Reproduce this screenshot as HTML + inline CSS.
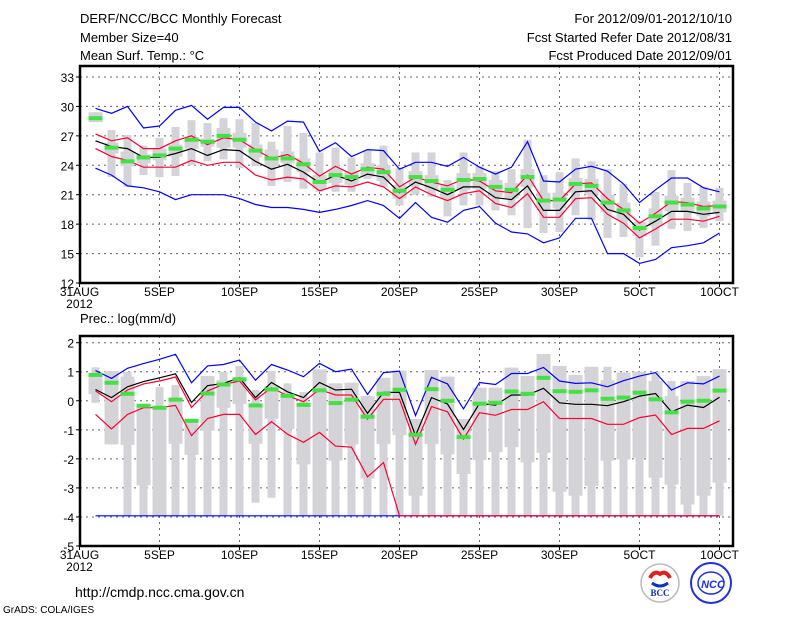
<!DOCTYPE html>
<html><head><meta charset="utf-8"><style>
body{margin:0;background:#fff;}
svg{display:block;font-family:"Liberation Sans",sans-serif;}
</style></head><body>
<svg id="chart" width="800" height="618" viewBox="0 0 800 618">
<text x="80" y="23" font-size="13">DERF/NCC/BCC Monthly Forecast</text>
<text x="80" y="42" font-size="13">Member Size=40</text>
<text x="80" y="60" font-size="13">Mean Surf. Temp.: °C</text>
<text x="732" y="23" font-size="13" text-anchor="end">For 2012/09/01-2012/10/10</text>
<text x="732" y="42" font-size="13" text-anchor="end">Fcst Started Refer Date 2012/08/31</text>
<text x="732" y="60" font-size="13" text-anchor="end">Fcst Produced Date 2012/09/01</text>
<text x="80" y="323" font-size="13">Prec.: log(mm/d)</text>
<text x="75" y="597" font-size="14">http://cmdp.ncc.cma.gov.cn</text>
<text x="3" y="613" font-size="10">GrADS: COLA/IGES</text>
<g>
<circle cx="660" cy="583" r="19" fill="#fff" stroke="#bbb" stroke-width="1.5"/>
<path d="M650 578 q4 -8 10 -4 q6 -4 10 4" stroke="#e02020" stroke-width="4" fill="none"/>
<path d="M652 583 q8 6 16 0" stroke="#1030c0" stroke-width="3" fill="none"/>
<text x="660" y="596" font-size="9" font-weight="bold" text-anchor="middle" fill="#1030a0" font-family="Liberation Serif,serif">BCC</text>
</g>
<g>
<circle cx="711" cy="583" r="20" fill="#fff" stroke="#2030e0" stroke-width="2"/>
<ellipse cx="711" cy="583" rx="13" ry="11" fill="none" stroke="#2030e0" stroke-width="1.5"/>
<text x="713" y="588" font-size="11" font-weight="bold" font-style="italic" text-anchor="middle" fill="#2030e0">NCC</text>
</g>
</svg>
<script>
const tBlueHi=[29.8,29.3,30.0,27.8,28.0,29.6,30.1,28.7,29.9,29.9,28.4,27.5,28.5,28.4,25.4,26.3,24.9,25.6,25.5,23.6,24.3,24.3,23.9,24.8,23.8,23.1,23.8,26.4,22.4,22.3,23.6,23.9,23.4,22.1,20.2,21.5,22.7,22.7,21.7,21.3];
const tRedHi=[27.2,26.5,26.8,25.7,25.7,26.5,27.0,26.1,26.8,26.6,25.6,24.7,25.1,24.2,22.9,23.9,23.1,23.8,23.6,21.8,22.8,22.3,21.9,22.6,22.4,21.4,21.2,23.0,20.4,20.4,22.1,22.2,20.6,19.5,18.1,19.1,20.3,20.2,19.8,19.9];
const tMean=[26.5,25.9,25.7,24.8,24.8,25.2,25.7,25.0,25.6,25.5,24.4,23.6,24.1,23.3,22.2,23.0,22.4,23.1,22.8,21.2,22.3,21.7,21.0,21.8,21.8,20.7,20.5,21.9,19.4,19.4,21.3,21.4,19.5,19.0,17.4,18.3,19.3,19.3,19.0,19.2];
const tRedLo=[25.7,24.9,24.5,23.8,23.8,23.8,24.5,24.0,24.3,24.3,23.0,22.5,22.8,22.6,21.4,21.9,21.8,22.3,21.8,20.6,21.8,21.0,20.4,21.1,21.4,20.1,19.7,21.1,18.7,18.7,20.6,20.7,19.0,18.1,16.6,17.5,18.5,18.5,18.3,18.8];
const tBlueLo=[23.7,23.0,21.9,21.7,21.3,20.5,21.0,21.0,21.0,20.6,20.0,19.7,19.7,19.5,19.2,19.5,19.9,20.4,19.9,18.6,20.2,18.7,18.2,19.4,19.8,18.1,17.2,17.0,16.1,16.6,18.6,18.6,15.0,15.0,14.0,14.4,15.6,15.8,16.1,17.1];
const tObs=[28.8,25.8,24.4,24.8,25.0,25.7,26.6,26.4,27.0,26.6,25.5,24.7,24.7,24.1,22.3,23.0,22.8,23.6,23.3,21.4,22.8,22.4,21.5,22.5,22.6,21.8,21.5,22.8,20.4,20.5,22.1,21.9,20.2,19.4,17.6,18.8,20.2,20.0,19.6,19.8];
const tMax=[29.4,27.6,27.1,26.0,26.8,27.9,28.6,28.3,28.8,28.7,28.3,26.4,28.0,27.3,25.3,25.8,24.8,25.6,26.0,23.7,25.3,25.3,22.5,25.3,23.9,23.4,23.6,26.6,23.0,23.3,24.7,24.4,23.6,22.1,18.3,21.3,23.5,22.2,21.8,21.7];
const tMin=[28.4,22.8,21.8,23.0,22.8,22.9,24.0,24.4,24.6,23.7,23.9,21.9,22.3,21.6,21.3,21.3,21.3,22.6,21.8,19.9,21.0,20.8,18.8,19.9,19.9,19.4,18.9,17.6,17.1,17.2,18.9,18.4,16.6,16.7,14.6,15.8,17.5,17.3,17.6,18.3];
const tQ3=[29.4,26.3,25.4,25.1,25.7,26.1,26.9,26.7,27.8,27.3,26.1,25.6,25.4,24.7,23.0,23.6,23.4,24.2,24.0,22.0,23.4,23.0,22.0,23.2,23.2,22.5,22.2,23.6,21.2,21.2,22.7,22.6,21.0,20.2,18.2,19.6,20.9,20.7,20.3,20.4];
const tQ1=[28.4,25.2,23.9,24.2,24.5,24.9,25.7,25.9,25.8,25.8,24.8,23.9,24.2,23.3,21.6,22.2,22.0,22.8,22.4,20.6,22.0,21.5,20.6,21.5,21.6,20.8,20.6,21.8,19.4,19.6,21.2,21.0,19.2,18.4,16.8,17.8,19.3,19.2,18.8,19.2];
const tTicks=[12,15,18,21,24,27,30,33];
const pBlueHi=[1.04,0.77,1.12,1.28,1.43,1.6,0.62,1.2,1.25,1.4,0.71,1.25,1.06,0.83,1.29,1.0,1.09,0.22,0.97,1.02,-0.51,0.81,0.58,-0.28,0.63,0.56,0.94,0.94,1.15,0.68,0.6,0.62,0.48,0.69,0.85,0.97,0.37,0.62,0.58,0.85];
const pMean=[0.39,0.11,0.48,0.66,0.79,0.93,-0.06,0.52,0.6,0.79,0.11,0.63,0.31,0.11,0.63,0.37,0.4,-0.43,0.29,0.29,-1.2,0.11,-0.11,-0.99,-0.09,-0.15,0.2,0.2,0.43,-0.07,-0.12,-0.12,-0.17,-0.03,0.16,0.25,-0.38,-0.15,-0.23,0.12];
const pRedHi=[0.34,-0.03,0.37,0.58,0.68,0.82,-0.23,0.34,0.56,0.68,0.03,0.45,0.17,-0.03,0.39,0.2,0.2,-0.63,0.05,0.05,-1.5,-0.2,-0.38,-1.32,-0.41,-0.5,-0.3,-0.3,-0.03,-0.61,-0.61,-0.61,-0.81,-0.81,-0.58,-0.49,-1.16,-0.95,-0.95,-0.69];
const pRedLo=[-0.47,-0.97,-0.47,-0.24,-0.24,-0.16,-1.2,-0.61,-0.47,-0.47,-1.16,-0.72,-1.15,-1.43,-1.09,-1.56,-1.6,-2.62,-2.13,-3.96,-3.96,-3.96,-3.96,-3.96,-3.96,-3.96,-3.96,-3.96,-3.96,-3.96,-3.96,-3.96,-3.96,-3.96,-3.96,-3.96,-3.96,-3.96,-3.96,-3.96];
const pBlueLo=[-3.96,-3.96,-3.96,-3.96,-3.96,-3.96,-3.96,-3.96,-3.96,-3.96,-3.96,-3.96,-3.96,-3.96,-3.96,-3.96,-3.96,-3.96,-3.96,-3.96,-3.96,-3.96,-3.96,-3.96,-3.96,-3.96,-3.96,-3.96,-3.96,-3.96,-3.96,-3.96,-3.96,-3.96,-3.96,-3.96,-3.96,-3.96,-3.96,-3.96];
const pObs=[0.89,0.62,0.24,-0.17,-0.24,0.04,-0.69,0.25,0.56,0.74,-0.16,0.39,0.17,-0.14,0.36,-0.08,0.04,-0.55,0.24,0.38,-1.17,0.4,0.0,-1.25,-0.1,-0.07,0.32,0.24,0.79,0.33,0.31,0.36,0.07,0.11,0.28,0.05,-0.4,-0.03,0.0,0.35];
const pMax=[1.15,1.02,1.0,-0.12,0.47,0.54,-0.64,0.85,1.0,1.2,0.37,1.02,0.6,0.3,1.08,0.6,0.62,0.16,0.79,1.04,-0.63,1.06,0.83,-0.63,0.45,0.45,1.14,0.85,1.61,1.2,0.89,0.75,1.17,0.71,0.97,1.0,0.68,0.16,0.68,0.85];
const pMin=[-0.07,-1.5,-3.96,-3.96,-3.96,-3.96,-3.96,-3.96,-3.96,-3.96,-3.51,-3.34,-3.96,-3.96,-3.96,-3.96,-3.96,-3.96,-3.96,-3.96,-3.96,-3.96,-3.96,-3.96,-3.96,-3.96,-3.96,-3.96,-3.96,-3.96,-3.96,-3.96,-3.96,-3.96,-3.96,-3.96,-3.96,-3.96,-3.96,-3.96];
const pQ3=[0.94,1.02,0.83,-0.12,-0.23,0.05,-0.64,0.85,0.71,0.79,-0.09,0.51,0.2,-0.11,1.08,0.6,0.62,0.16,0.79,1.04,-0.63,1.06,0.83,-0.63,0.45,0.45,1.14,0.85,1.61,1.2,0.89,1.17,0.71,0.97,1.0,0.68,0.16,0.68,0.85,1.09];
const pQ1=[0.23,-1.5,-1.52,-2.91,-3.96,-1.48,-1.86,-1.03,-0.24,-0.11,-1.48,-0.62,-0.97,-2.19,-3.96,-2.06,-1.5,-2.68,-1.49,-1.18,-3.27,-1.49,-1.85,-2.52,-2.04,-1.77,-1.6,-2.12,-1.79,-3.13,-3.27,-2.93,-2.06,-2.02,-1.96,-2.65,-2.89,-3.57,-3.27,-2.82];
const pTicks=[-5,-4,-3,-2,-1,0,1,2];
const xLabels=["31AUG","5SEP","10SEP","15SEP","20SEP","25SEP","30SEP","5OCT","10OCT"];
const xLabelDays=[0,5,10,15,20,25,30,35,40];

const NS="http://www.w3.org/2000/svg";
const svg=document.getElementById('chart');
const X0=80,X1=733;
function xd(d){return 79.5+16*d;}
function mk(tag,attrs,parent){const e=document.createElementNS(NS,tag);for(const k in attrs)e.setAttribute(k,attrs[k]);(parent||svg).appendChild(e);return e;}

function panel(cfg){
  const g=mk('g',{});
  
  
  const y=cfg.y;
  cfg.ticks.forEach(t=>{
    if(t===cfg.ticks[0])return;
    const l=mk('line',{x1:X0,x2:X1,y1:y(t),y2:y(t),stroke:'#666','stroke-dasharray':'2,4','stroke-width':1},g);
    
    
  });
  xLabelDays.forEach(d=>{
    if(d===0)return;
    const l=mk('line',{x1:xd(d),x2:xd(d),y1:cfg.top,y2:cfg.bot,stroke:'#666','stroke-dasharray':'2,4','stroke-width':1},g);
    
    
  });
  for(let i=0;i<40;i++){
    const x=xd(i+1);
    const w=mk('rect',{x:x-4,width:8,y:y(cfg.max[i]),height:Math.max(1,y(cfg.min[i])-y(cfg.max[i])),fill:'#d4d4d8'},g);
    
    
    const b=mk('rect',{x:x-7,width:14,y:y(cfg.q3[i]),height:Math.max(1,y(cfg.q1[i])-y(cfg.q3[i])),fill:'#d4d4d8'},g);
    
    
  }
  function line(arr,color,name){
    const p=mk('polyline',{points:arr.map((v,i)=>xd(i+1)+','+y(v).toFixed(1)).join(' '),fill:'none',stroke:color,'stroke-width':1.2},g);
    
    
  }
  line(cfg.blueLo,'#0000ff','lower-bound-line');
  line(cfg.blueHi,'#0000ff','upper-bound-line');
  line(cfg.redHi,'#ff0030','upper-quantile-line');
  line(cfg.redLo,'#ff0030','lower-quantile-line');
  line(cfg.mean,'#000','ensemble-mean-line');
  for(let i=0;i<40;i++){
    const r=mk('rect',{x:xd(i+1)-7,width:14,y:y(cfg.obs[i])-2,height:4,fill:'#44e044'},g);
    
    
  }
  const f=mk('rect',{x:X0,y:cfg.top,width:X1-X0,height:cfg.bot-cfg.top,fill:'none',stroke:'#000','stroke-width':2.5},g);
  
  
  cfg.ticks.forEach(t=>{
    mk('line',{x1:X0-4,x2:X0,y1:y(t),y2:y(t),stroke:'#000'},g);
    const tx=mk('text',{x:X0-6,y:y(t)+5,'font-size':12,'text-anchor':'end'},g);
    tx.textContent=t;
    
    
  });
  xLabelDays.forEach((d,k)=>{
    mk('line',{x1:xd(d),x2:xd(d),y1:cfg.bot,y2:cfg.bot+4,stroke:'#000'},g);
    const tx=mk('text',{x:xd(d),y:cfg.bot+13,'font-size':12,'text-anchor':'middle'},g);
    tx.textContent=xLabels[k];
    
    
  });
  const yr=mk('text',{x:xd(0),y:cfg.bot+25,'font-size':12,'text-anchor':'middle'},g);
  yr.textContent='2012';
  
  
}
panel({name:'temperature-panel',top:66,bot:283,ticks:tTicks,y:v=>283-(v-12)*9.81,
  max:tMax,min:tMin,q3:tQ3,q1:tQ1,blueHi:tBlueHi,blueLo:tBlueLo,redHi:tRedHi,redLo:tRedLo,mean:tMean,obs:tObs});
panel({name:'precipitation-panel',top:336,bot:546,ticks:pTicks,y:v=>342.7+(2-v)*29.04,
  max:pMax,min:pMin,q3:pQ3,q1:pQ1,blueHi:pBlueHi,blueLo:pBlueLo,redHi:pRedHi,redLo:pRedLo,mean:pMean,obs:pObs});
</script>
</body></html>
